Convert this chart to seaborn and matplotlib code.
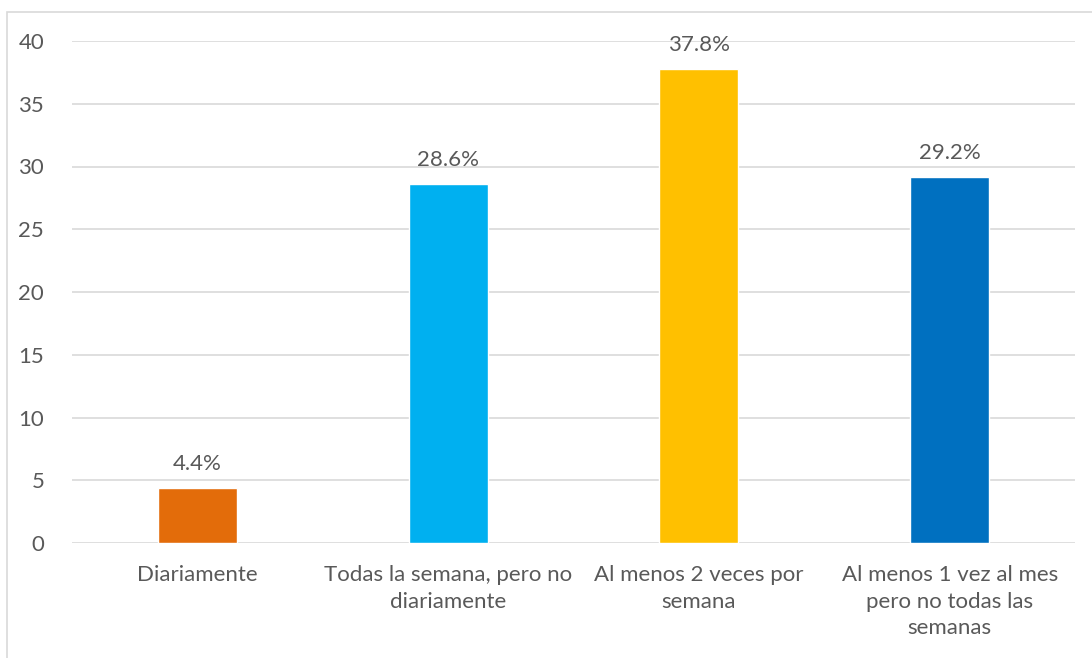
import matplotlib
matplotlib.use("Agg")
import matplotlib.pyplot as plt
import seaborn as sns
import pandas as pd
from matplotlib.patches import Rectangle

categories = [
    "Diariamente",
    "Todas la semana, pero no\ndiariamente",
    "Al menos 2 veces por\nsemana",
    "Al menos 1 vez al mes\npero no todas las\nsemanas",
]
values = [4.4, 28.6, 37.8, 29.2]
colors = ["#E36C0A", "#00B0F0", "#FFC000", "#0070C0"]
y_ticks = [0, 5, 10, 15, 20, 25, 30, 35, 40]

sns.set_theme(style="white")
plt.rcParams["font.family"] = ["Lato", "DejaVu Sans"]
text_color = "#595959"
fs = 16

df = pd.DataFrame({"cat": categories, "val": values})

fig = plt.figure(figsize=(10.92, 6.58), dpi=100)
ax = fig.add_axes([72 / 1092, 1 - 543 / 658, (1075 - 72) / 1092, (543 - 41) / 658])

sns.barplot(data=df, x="cat", y="val", hue="cat", palette=colors,
            width=0.315, legend=False, ax=ax, saturation=1)

ax.set_ylim(0, 40)
ax.set_xlim(-0.5, 3.5)
ax.set_yticks(y_ticks)
ax.yaxis.grid(True, color="#D9D9D9", linewidth=1.2)
ax.set_axisbelow(True)
for s in ax.spines.values():
    s.set_visible(False)
ax.set_xlabel("")
ax.set_ylabel("")
ax.tick_params(axis="both", length=0, labelsize=fs, colors=text_color)
ax.tick_params(axis="y", pad=20)
ax.tick_params(axis="x", pad=16)
for lbl in ax.get_xticklabels():
    lbl.set_linespacing(1.4)
    lbl.set_va("top")

for i, v in enumerate(values):
    ax.annotate(f"{v}%", (i, v), xytext=(0, 10), textcoords="offset points",
                ha="center", va="bottom", fontsize=fs, color=text_color)

fig.patches.append(Rectangle((7 / 1092, -0.1), 1.2, 1 - 12 / 658 + 0.1,
                             transform=fig.transFigure, fill=False,
                             edgecolor="#D9D9D9", linewidth=1.2))

fig.savefig("out.png", dpi=100)
